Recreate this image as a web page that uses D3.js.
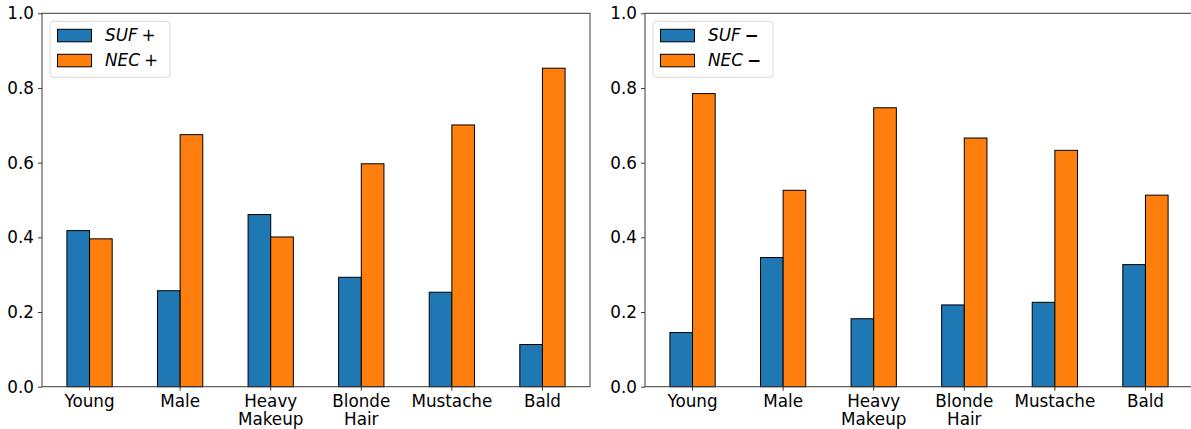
<!DOCTYPE html>
<html>
<head>
<meta charset="utf-8">
<script src="https://cdn.jsdelivr.net/npm/d3@7"></script>
<style>
  body { margin: 0; background: #fff; }
  svg text { font-family: "DejaVu Sans", sans-serif; }
</style>
</head>
<body>
<div id="chart"></div>
<script>
(function() {
  var width = 1191;
  var height = 429;

  // data
  var categories = [['Young'], ['Male'], ['Heavy', 'Makeup'], ['Blonde', 'Hair'], ['Mustache'], ['Bald']];
  var sufPlus = [0.418, 0.257, 0.461, 0.293, 0.253, 0.113];
  var necPlus = [0.396, 0.675, 0.401, 0.597, 0.701, 0.853];
  var sufMinus = [0.145, 0.346, 0.182, 0.219, 0.226, 0.327];
  var necMinus = [0.785, 0.526, 0.747, 0.666, 0.633, 0.513];
  var yTicks = [0, 0.2, 0.4, 0.6, 0.8, 1.0];

  var blue = '#1f77b4';
  var orange = '#ff7f0e';
  var spineColor = '#3a3a3a';
  var fontSize = 16.8;

  var svg = d3.select('#chart').append('svg').attr('width', width).attr('height', height);

  drawPanel(42, 590, [sufPlus, necPlus], ['SUF', 'NEC'], '+');
  drawPanel(645, 1193, [sufMinus, necMinus], ['SUF', 'NEC'], '\u2212');

  /*
   * Draws one bar panel with its axes and legend
   */
  function drawPanel(x0, x1, series, names, sign) {
    var top = 13.3;
    var bottom = 386.7;
    var barW = 0.25;
    var x = d3.scaleLinear().domain([-0.525, 5.525]).range([x0, x1]);
    var y = d3.scaleLinear().domain([0, 1]).range([bottom, top]);
    var g = svg.append('g');

    // bars
    series.forEach(function(values, s) {
      g.selectAll('.bar' + s)
        .data(values)
        .enter()
        .append('rect')
        .attr('x', function(d, i) { return x(i + (s - 1) * barW); })
        .attr('y', function(d) { return y(d); })
        .attr('width', x(barW) - x(0))
        .attr('height', function(d) { return y(0) - y(d); })
        .attr('fill', s === 0 ? blue : orange)
        .attr('stroke', '#000')
        .attr('stroke-width', 1);
    });

    // y axis
    var yAxis = d3.axisLeft(y).tickValues(yTicks).tickFormat(d3.format('.1f')).tickSize(4).tickPadding(4);
    var ya = g.append('g').attr('transform', 'translate(' + x0 + ',0)').call(yAxis);
    ya.select('.domain').remove();
    ya.selectAll('line').attr('stroke', spineColor);
    ya.selectAll('text').attr('font-size', fontSize).attr('fill', '#000').attr('font-family', 'DejaVu Sans');

    // x axis ticks and wrapped labels
    var xa = g.append('g');
    categories.forEach(function(lines, i) {
      xa.append('line')
        .attr('x1', x(i)).attr('x2', x(i))
        .attr('y1', bottom).attr('y2', bottom + 4)
        .attr('stroke', spineColor);
      lines.forEach(function(line, k) {
        xa.append('text')
          .attr('x', x(i))
          .attr('y', bottom + 20 + k * 18)
          .attr('text-anchor', 'middle')
          .attr('font-size', fontSize)
          .text(line);
      });
    });

    // spines
    g.append('rect')
      .attr('x', x0).attr('y', top)
      .attr('width', x1 - x0).attr('height', bottom - top)
      .attr('fill', 'none')
      .attr('stroke', spineColor)
      .attr('stroke-width', 1);

    // legend
    var lg = g.append('g').attr('transform', 'translate(' + (x0 + 8) + ',' + (top + 8) + ')');
    lg.append('rect')
      .attr('width', 120).attr('height', 56)
      .attr('rx', 3)
      .attr('fill', '#fff')
      .attr('fill-opacity', 0.8)
      .attr('stroke', '#d9d9d9');
    names.forEach(function(name, k) {
      lg.append('rect')
        .attr('x', 7.5).attr('y', 8 + k * 25)
        .attr('width', 34).attr('height', 12.5)
        .attr('fill', k === 0 ? blue : orange)
        .attr('stroke', '#000')
        .attr('stroke-width', 1);
      var t = lg.append('text')
        .attr('x', 55).attr('y', 20 + k * 25)
        .attr('font-size', fontSize);
      t.append('tspan').attr('font-style', 'italic').text(name);
      t.append('tspan').attr('dx', 4)
        .attr('font-weight', sign === '+' ? 'normal' : 'bold')
        .text(sign);
    });
  }
}).call(this);
</script>
</body>
</html>
